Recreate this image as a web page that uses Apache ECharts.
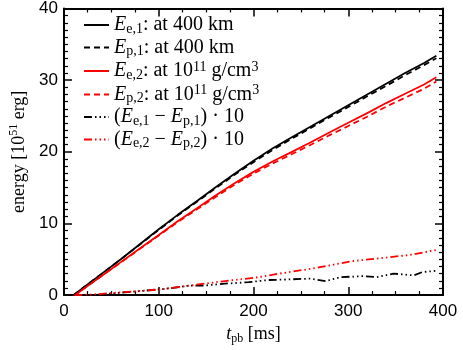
<!DOCTYPE html>
<html>
<head>
<meta charset="utf-8">
<title>energy</title>
<script src="https://cdn.jsdelivr.net/npm/echarts@6/dist/echarts.min.js"></script>
<style>
  * { margin: 0; padding: 0 }
  html, body { width: 100%; height: 100%; background: #fff; }
  #main { width: 463px; height: 350px; }
</style>
</head>
<body>
<div id="main"></div>
<script type="text/javascript">
// time axis [ms]
var tpb = [10, 20, 40, 60, 80, 100, 120, 140, 160, 180, 200, 220, 240, 260, 280, 300, 320, 340, 360, 380, 393];
var Ee1 = [0, 1.0, 3.0, 5.0, 7.1, 9.2, 11.2, 13.1, 15.05, 16.95, 18.75, 20.45, 22.0, 23.5, 25.0, 26.5, 28.0, 29.5, 31.0, 32.4, 33.4];
var Ep1 = [0, 1.0, 3.0, 5.0, 7.05, 9.1, 11.1, 13.0, 14.9, 16.8, 18.55, 20.25, 21.8, 23.3, 24.8, 26.25, 27.75, 29.2, 30.7, 32.1, 33.05];
var Ee2 = [-0.2, 0.8, 2.7, 4.6, 6.5, 8.4, 10.3, 12.1, 13.9, 15.6, 17.2, 18.65, 19.95, 21.3, 22.7, 24.05, 25.4, 26.8, 28.1, 29.4, 30.4];
var Ep2 = [-0.2, 0.8, 2.7, 4.55, 6.45, 8.3, 10.2, 11.95, 13.7, 15.4, 16.95, 18.35, 19.65, 20.95, 22.3, 23.6, 24.9, 26.3, 27.55, 28.8, 29.8];
// differences x10, own time samples
var tD1 = [10, 20, 40, 60, 80, 100, 115, 130, 150, 170, 195, 215, 240, 260, 276, 292, 316, 330, 348, 369, 378, 393];
var D1 = [0, -0.05, 0.1, 0.35, 0.55, 0.8, 1.0, 1.3, 1.35, 1.6, 1.8, 2.1, 2.2, 2.3, 1.95, 2.5, 2.65, 2.5, 3.0, 2.75, 3.2, 3.4];
var tD2 = [11, 32, 67, 102, 137, 172, 200, 232, 267, 302, 337, 365, 393];
var D2 = [0, 0.1, 0.45, 0.8, 1.4, 2.0, 2.4, 3.1, 3.8, 4.7, 5.2, 5.6, 6.3];

var xTicks = [0, 100, 200, 300, 400];
var yTicks = [0, 10, 20, 30, 40];

function pairs(t, v) {
  return t.map(function (x, i) { return [x, v[i]]; });
}

var serif = 'Liberation Serif';
function richSet(big, small, lh) {
  return {
    i: { fontFamily: serif, fontStyle: 'italic', fontSize: big, color: '#000', lineHeight: lh },
    n: { fontFamily: serif, fontSize: big, color: '#000', lineHeight: lh },
    s: { fontFamily: serif, fontSize: small, color: '#000', lineHeight: small, verticalAlign: 'bottom' },
    p: { fontFamily: serif, fontSize: small, color: '#000', lineHeight: small, verticalAlign: 'top' }
  };
}
var legendRich = richSet(20, 14, 22);
var nameRich = richSet(18, 12, 22);

var labels = {
  'Ee1': '{i|E}{s|e,1}{n|: at 400 km}',
  'Ep1': '{i|E}{s|p,1}{n|: at 400 km}',
  'Ee2': '{i|E}{s|e,2}{n|: at 10}{p|11}{n| g/cm}{p|3}',
  'Ep2': '{i|E}{s|p,2}{n|: at 10}{p|11}{n| g/cm}{p|3}',
  'D1': '{n|(}{i|E}{s|e,1}{n| − }{i|E}{s|p,1}{n|) · 10}',
  'D2': '{n|(}{i|E}{s|e,2}{n| − }{i|E}{s|p,2}{n|) · 10}'
};

var dashDot3 = [8, 3, 1.5, 3, 1.5, 3, 1.5, 3];

function baseAxis(pos, min, max, interval, minor, showLabel) {
  return {
    type: 'value', position: pos, min: min, max: max, interval: interval,
    axisLine: { show: true, onZero: false, lineStyle: { color: '#000', width: 2 } },
    axisTick: { show: true, inside: true, length: 8, lineStyle: { color: '#000', width: 1.5 } },
    minorTick: { show: true, splitNumber: minor, length: 4, lineStyle: { color: '#000', width: 1.2 } },
    splitLine: { show: false },
    axisLabel: { show: showLabel, color: '#000', fontFamily: 'Liberation Sans', fontSize: 17, margin: 8 }
  };
}

var chart = echarts.init(document.getElementById('main'));

var xb = baseAxis('bottom', xTicks[0], xTicks[xTicks.length - 1], 100, 4, true);
xb.name = '{i|t}{s|pb}{n| [ms]}';
xb.nameLocation = 'middle';
xb.nameGap = 18;
xb.nameTextStyle = { rich: nameRich };
var xt = baseAxis('top', xTicks[0], xTicks[xTicks.length - 1], 100, 4, false);

var yl = baseAxis('left', yTicks[0], yTicks[yTicks.length - 1], 10, 10, true);
yl.axisLabel.margin = 6;
yl.name = '{n|energy [10}{p|51}{n| erg]}';
yl.nameLocation = 'middle';
yl.nameGap = 34;
yl.nameTextStyle = { rich: nameRich };
var yr = baseAxis('right', yTicks[0], yTicks[yTicks.length - 1], 10, 10, false);

function line(name, t, v, color, type) {
  return {
    name: name, type: 'line', xAxisIndex: 0, yAxisIndex: 0,
    data: pairs(t, v), showSymbol: false, symbol: 'none', animation: false,
    lineStyle: { color: color, width: 1.8, type: type },
    itemStyle: { color: color }
  };
}

chart.setOption({
  animation: false,
  grid: { left: 63, right: 20, top: 4, bottom: 54 },
  legend: {
    orient: 'vertical', left: 78, top: 10, itemWidth: 25, itemHeight: 14, itemGap: 1.5,
    selectedMode: false,
    itemStyle: { opacity: 0 },
    formatter: function (n) { return labels[n]; },
    textStyle: { rich: legendRich },
    data: ['Ee1', 'Ep1', 'Ee2', 'Ep2', 'D1', 'D2']
  },
  xAxis: [xb, xt],
  yAxis: [yl, yr],
  series: [
    line('Ee1', tpb, Ee1, '#000', 'solid'),
    line('Ep1', tpb, Ep1, '#000', [6, 4]),
    line('Ee2', tpb, Ee2, '#ff0000', 'solid'),
    line('Ep2', tpb, Ep2, '#ff0000', [6, 4]),
    line('D1', tD1, D1, '#000', dashDot3),
    line('D2', tD2, D2, '#ff0000', dashDot3)
  ]
});
</script>
</body>
</html>
